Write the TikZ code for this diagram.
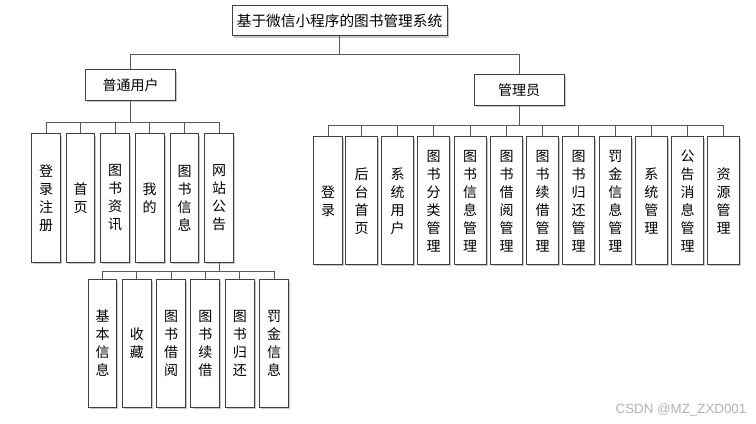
\documentclass[tikz,border=0pt]{standalone}
\usepackage{fontspec}
\newfontfamily\cjk{Noto Sans CJK SC}
\newfontfamily\marksans{Liberation Sans}
\usetikzlibrary{shadows}
\tikzset{
  sysbox/.style={draw=black!75, fill=white, inner sep=0pt, align=center,
    line width=0.75pt, font=\cjk\fontsize{10.5}{13.5}\selectfont,
    drop shadow={shadow xshift=1.2pt, shadow yshift=-1.2pt, fill=black!22, opacity=1}},
  rolebox/.style={sysbox, minimum width=67.5pt, minimum height=23pt},
  userbox/.style={sysbox, minimum width=21.5pt, minimum height=96pt},
  adminbox/.style={sysbox, minimum width=24pt, minimum height=95.8pt},
  link/.style={draw=black!65, line width=0.75pt}
}
\begin{document}
\begin{tikzpicture}[x=0.75pt, y=-0.75pt]
        \useasboundingbox[fill=white] (0,0) rectangle (756,424);
        % root
        \node[sysbox, minimum width=161.25pt, minimum height=22.5pt,
              font=\cjk\fontsize{11}{13.5}\selectfont] (root) at (339.5,21) {基于微信小程序的图书管理系统};
        \node[rolebox] (user) at (130.7,85.3) {普通用户};
        \node[rolebox] (admin) at (519,90) {管理员};
        % user side
        \node[userbox] (u1) at (46,198) {登\\录\\注\\册};
        \node[userbox] (u2) at (80.5,198) {首\\页};
        \node[userbox] (u3) at (115,198) {图\\书\\资\\讯};
        \node[userbox] (u4) at (149.7,198) {我\\的};
        \node[userbox] (u5) at (184.5,198) {图\\书\\信\\息};
        \node[userbox] (u6) at (219,198) {网\\站\\公\\告};
        \node[userbox] (n1) at (102.5,343.3) {基\\本\\信\\息};
        \node[userbox] (n2) at (136.8,343.3) {收\\藏};
        \node[userbox] (n3) at (171,343.3) {图\\书\\借\\阅};
        \node[userbox] (n4) at (205.3,343.3) {图\\书\\续\\借};
        \node[userbox] (n5) at (239.8,343.3) {图\\书\\归\\还};
        \node[userbox] (n6) at (274,343.3) {罚\\金\\信\\息};
        % admin side
        \node[adminbox, minimum width=21.5pt] (a1) at (328,200.8) {登\\录};
        \node[adminbox] (a2) at (361.7,200.8) {后\\台\\首\\页};
        \node[adminbox] (a3) at (397.5,200.8) {系\\统\\用\\户};
        \node[adminbox] (a4) at (433.7,200.8) {图\\书\\分\\类\\管\\理};
        \node[adminbox] (a5) at (470,200.8) {图\\书\\信\\息\\管\\理};
        \node[adminbox] (a6) at (506.5,200.8) {图\\书\\借\\阅\\管\\理};
        \node[adminbox] (a7) at (542.7,200.8) {图\\书\\续\\借\\管\\理};
        \node[adminbox] (a8) at (578.7,200.8) {图\\书\\归\\还\\管\\理};
        \node[adminbox] (a9) at (615.3,200.8) {罚\\金\\信\\息\\管\\理};
        \node[adminbox] (a10) at (651.3,200.8) {系\\统\\管\\理};
        \node[adminbox] (a11) at (687.5,200.8) {公\\告\\消\\息\\管\\理};
        \node[adminbox] (a12) at (723.5,200.8) {资\\源\\管\\理};
        % connectors
        \draw[link] (root.south) -- ++(0,18) -| (user.north);
        \draw[link] (root.south) -- ++(0,18) -| (admin.north);
        \draw[link] (user.south) -- ++(0,21.3) -| (u1.north);
        \draw[link] (user.south) -- ++(0,21.3) -| (u2.north);
        \draw[link] (user.south) -- ++(0,21.3) -| (u3.north);
        \draw[link] (user.south) -- ++(0,21.3) -| (u4.north);
        \draw[link] (user.south) -- ++(0,21.3) -| (u5.north);
        \draw[link] (user.south) -- ++(0,21.3) -| (u6.north);
        \draw[link] (u6.south) -- ++(0,9) -| (n1.north);
        \draw[link] (u6.south) -- ++(0,9) -| (n2.north);
        \draw[link] (u6.south) -- ++(0,9) -| (n3.north);
        \draw[link] (u6.south) -- ++(0,9) -| (n4.north);
        \draw[link] (u6.south) -- ++(0,9) -| (n5.north);
        \draw[link] (u6.south) -- ++(0,9) -| (n6.north);
        \draw[link] (admin.south) -- ++(0,19.7) -| (a1.north);
        \draw[link] (admin.south) -- ++(0,19.7) -| (a2.north);
        \draw[link] (admin.south) -- ++(0,19.7) -| (a3.north);
        \draw[link] (admin.south) -- ++(0,19.7) -| (a4.north);
        \draw[link] (admin.south) -- ++(0,19.7) -| (a5.north);
        \draw[link] (admin.south) -- ++(0,19.7) -| (a6.north);
        \draw[link] (admin.south) -- ++(0,19.7) -| (a7.north);
        \draw[link] (admin.south) -- ++(0,19.7) -| (a8.north);
        \draw[link] (admin.south) -- ++(0,19.7) -| (a9.north);
        \draw[link] (admin.south) -- ++(0,19.7) -| (a10.north);
        \draw[link] (admin.south) -- ++(0,19.7) -| (a11.north);
        \draw[link] (admin.south) -- ++(0,19.7) -| (a12.north);
        % watermark
        \node[text=black!30, font=\marksans\fontsize{10}{12}\selectfont] (mark) at (681,410) {CSDN @MZ\_ZXD001};
    \end{tikzpicture}
\end{document}
